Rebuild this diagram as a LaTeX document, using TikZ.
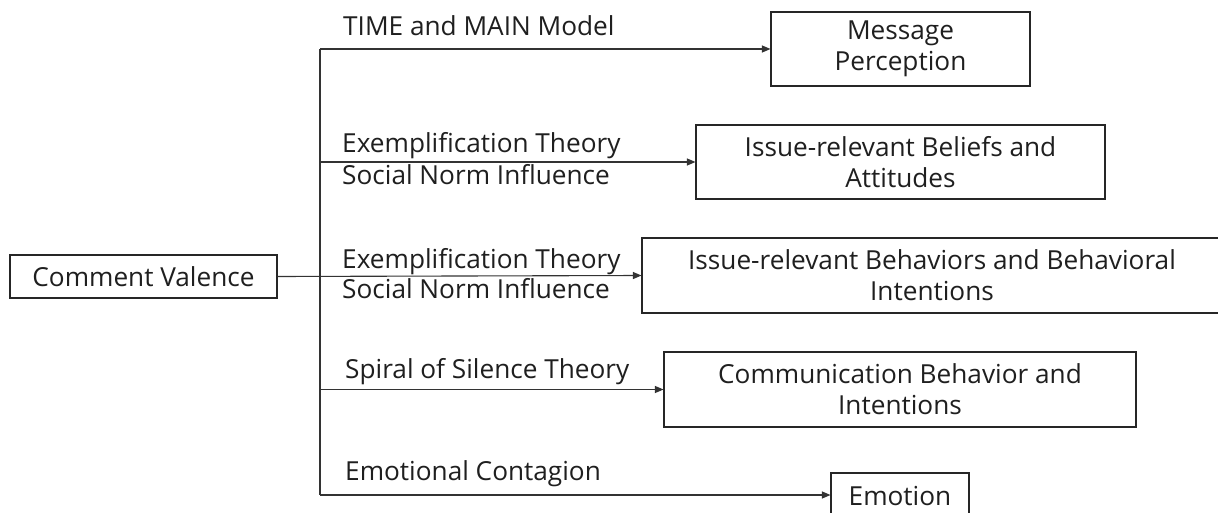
\documentclass[tikz,border=0pt]{standalone}
\usepackage{fontspec}
\setmainfont{Open Sans}
\usetikzlibrary{arrows.meta}
\begin{document}
\begin{tikzpicture}[x=1pt,y=-1pt,
  every node/.style={font=\fontsize{26.2}{31}\selectfont, text=black!88},
  box/.style={draw=black!85, line width=1.1pt, rectangle, inner sep=0pt, align=center},
  lbl/.style={anchor=base west, inner sep=0pt, align=left},
  conn/.style={draw=black!80, line width=1.1pt},
  arr/.style={conn, -{Triangle[length=8.5pt,width=7pt]}}]
\useasboundingbox (0,0) rectangle (1218,513);
\clip (0,0) rectangle (1218,513);
\fill[white] (0,0) rectangle (1218,513);
% source
\node[box, minimum width=267pt, minimum height=43pt] (cv) at (143.5,276.5) {Comment Valence};
% targets
\node[box, minimum width=259pt, minimum height=74pt] (b1) at (900.5,49) {Message\\Perception};
\node[box, minimum width=409pt, minimum height=74pt] (b2) at (900.5,162) {Issue-relevant Beliefs and\\Attitudes};
\node[box, minimum width=580pt, minimum height=75pt] (b3) at (932,275.5) {Issue-relevant Behaviors and Behavioral\\Intentions};
\node[box, minimum width=138pt, minimum height=75pt] (b5) at (900,510.5) {};
\node[box, minimum width=472pt, minimum height=75pt] (b4) at (900,389.5) {Communication Behavior and\\Intentions};
\node[anchor=base, inner sep=0pt] (b5t) at (900,505) {Emotion};
% spine
\coordinate (top) at (320,49);
\coordinate (bot) at (320,495);
\draw[conn] (top) -- (bot);
% connectors
\draw[arr] (cv.east) -- (b3.west);
\draw[arr] (top) -- (b1.west);
\draw[arr] (b2.west -| top) -- (b2.west);
\draw[arr] (b4.west -| top) -- (b4.west);
\draw[arr] (bot) -- (bot -| b5.west);
% labels
\node[lbl] (l1) at (343,36) {TIME and MAIN Model};
\node[lbl] (l2a) at (342,153) {Exemplification Theory};
\node[lbl] (l2b) at (342,185) {Social Norm Influence};
\node[lbl] (l3a) at (342,268) {Exemplification Theory};
\node[lbl] (l3b) at (342,298) {Social Norm Influence};
\node[lbl] (l4) at (345,378) {Spiral of Silence Theory};
\node[lbl] (l5) at (345,480) {Emotional Contagion};
\end{tikzpicture}
\end{document}
